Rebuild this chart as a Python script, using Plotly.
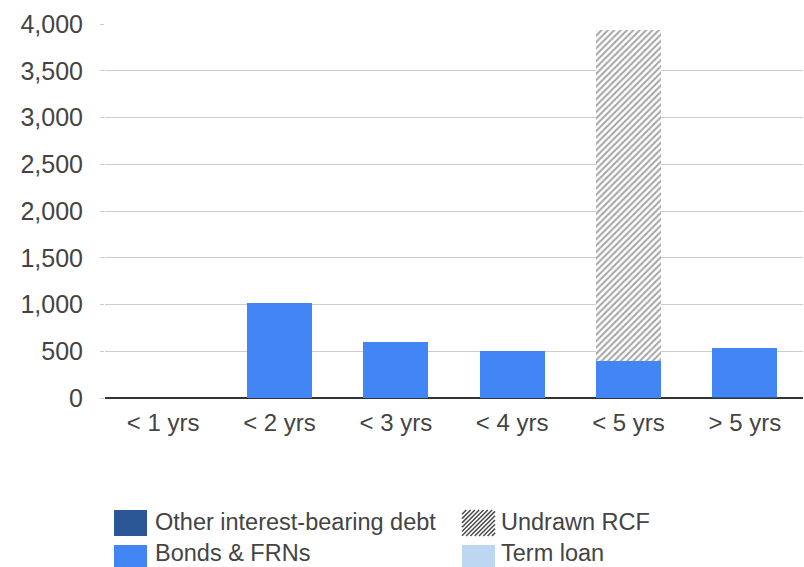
import plotly.graph_objects as go

# Debt maturity profile (stacked)
categories = ["< 1 yrs", "< 2 yrs", "< 3 yrs", "< 4 yrs", "< 5 yrs", "> 5 yrs"]
other_debt = [0, 0, 0, 0, 0, 15]
bonds_frns = [0, 1015, 600, 505, 395, 520]
term_loan = [0, 0, 0, 0, 0, 0]
undrawn_rcf = [0, 0, 0, 0, 3540, 0]

y_ticks = [0, 500, 1000, 1500, 2000, 2500, 3000, 3500, 4000]

FONT = "Liberation Sans, Arial, sans-serif"
TEXT = "#444444"
C_OTHER = "#2b5797"
C_BONDS = "#4285f4"
C_TERM = "#bdd7f3"
C_HATCH = "#4a4a4a"

W, H = 804, 567
L, R, T, B = 105, 1, 24, 169

fig = go.Figure()
fig.add_bar(x=categories, y=other_debt, name="Other interest-bearing debt",
            marker=dict(color=C_OTHER, line=dict(width=0)))
fig.add_bar(x=categories, y=bonds_frns, name="Bonds & FRNs",
            marker=dict(color=C_BONDS, line=dict(width=0)))
fig.add_bar(x=categories, y=term_loan, name="Term loan",
            marker=dict(color=C_TERM, line=dict(width=0)))
fig.add_bar(x=categories, y=undrawn_rcf, name="Undrawn RCF",
            marker=dict(color="white", line=dict(width=0),
                        pattern=dict(shape="/", fgcolor=C_HATCH, bgcolor="white",
                                     size=4.5, solidity=0.45)))

# pixel -> paper helpers for the hand-placed legend
pw, ph = W - L - R, H - T - B


def px(x):
    return (x - L) / pw


def py(y):
    return (H - B - y) / ph


shapes = []
annotations = []


def swatch(x0, y0, x1, y1, color):
    shapes.append(dict(type="rect", xref="paper", yref="paper",
                       x0=px(x0), x1=px(x1), y0=py(y1), y1=py(y0),
                       fillcolor=color, line=dict(width=0), layer="above"))


def hatch_swatch(x0, y0, x1, y1, step=4.3):
    # "/" stripes clipped to the rectangle
    h = y1 - y0
    segs = []
    s = x0 - h
    while s < x1:
        ax, ay = s, y1
        bx, by = s + h, y0
        if ax < x0:
            ay = y1 - (x0 - ax)
            ax = x0
        if bx > x1:
            by = y0 + (bx - x1)
            bx = x1
        if bx > ax:
            segs.append(f"M{px(ax):.5f},{py(ay):.5f}L{px(bx):.5f},{py(by):.5f}")
        s += step
    shapes.append(dict(type="path", xref="paper", yref="paper", path="".join(segs),
                       line=dict(color=C_HATCH, width=1.5), layer="above"))


def label(x, y, text):
    annotations.append(dict(xref="paper", yref="paper", x=px(x), y=py(y),
                            text=text, showarrow=False, xanchor="left", yanchor="middle",
                            font=dict(family=FONT, size=23.5, color=TEXT)))


swatch(114, 510, 147, 536, C_OTHER)
label(153, 522, "Other interest-bearing debt")
swatch(114, 545, 147, 571, C_BONDS)
label(153, 553, "Bonds & FRNs")
hatch_swatch(462, 510, 495, 536)
label(499, 522, "Undrawn RCF")
swatch(462, 545, 495, 571, C_TERM)
label(499, 553, "Term loan")

fig.update_layout(
    barmode="stack",
    bargap=0.44,
    width=W, height=H,
    margin=dict(l=L, r=R, t=T, b=B, pad=0),
    paper_bgcolor="white",
    plot_bgcolor="white",
    showlegend=False,
    font=dict(family=FONT, color=TEXT),
    shapes=shapes,
    annotations=annotations,
    xaxis=dict(
        showgrid=False,
        showline=False,
        ticks="",
        tickfont=dict(size=24, color=TEXT),
        ticklabelstandoff=8,
    ),
    yaxis=dict(
        range=[0, 4000],
        tickvals=y_ticks,
        tickformat=",",
        showgrid=True,
        gridcolor="#cccccc",
        gridwidth=1,
        zeroline=True,
        zerolinecolor="#333333",
        zerolinewidth=1.5,
        ticks="outside",
        ticklen=4,
        tickcolor="#cccccc",
        tickfont=dict(size=25, color=TEXT),
        ticklabelstandoff=12,
    ),
)

fig.write_html("out.html")
